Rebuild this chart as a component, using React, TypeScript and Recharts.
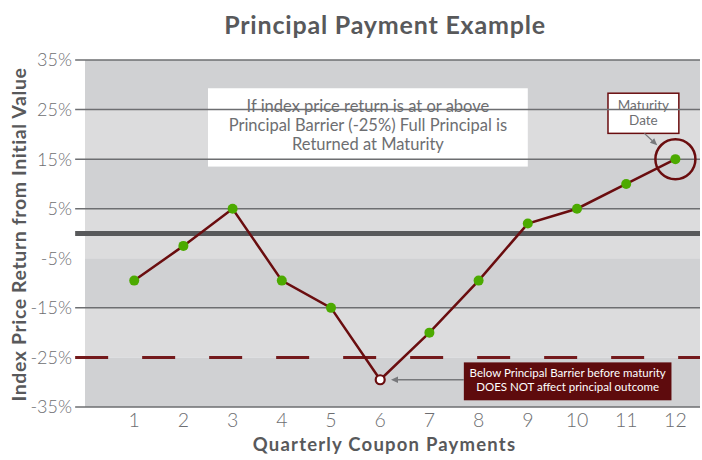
import React from 'react'
import {
  LineChart,
  Line,
  XAxis,
  YAxis,
  ReferenceArea,
  ReferenceLine,
  ReferenceDot,
  Label,
} from 'recharts'

const quarters = [1, 2, 3, 4, 5, 6, 7, 8, 9, 10, 11, 12]
const indexReturns = [-9.5, -2.5, 5, -9.5, -15, -29.5, -20, -9.5, 2, 5, 10, 15]
const yTicks = [35, 25, 15, 5, -5, -15, -25, -35]
const gridLevels = [35, 25, 15, 5, -15, -35]
const principalBarrier = -25
const noteText = [
  'If index price return is at or above',
  'Principal Barrier (-25%) Full Principal is',
  'Returned at Maturity',
]
const maturityText = ['Maturity', 'Date']
const breachText = ['Below Principal Barrier before maturity', 'DOES NOT affect principal outcome']

const data = quarters.map((q, i) => ({ quarter: q, value: indexReturns[i] }))

const RED = '#6a0d0f'
const GREEN = '#4caa00'
const TEXT = '#58595b'
const FONT = 'Lato, "Open Sans", sans-serif'

const renderDot = (props: any) => {
  const { cx, cy, payload, index } = props
  if (payload.value < principalBarrier) {
    return <circle key={index} cx={cx} cy={cy} r={4.5} fill="#fff" stroke={RED} strokeWidth={2.2} />
  }
  return <circle key={index} cx={cx} cy={cy} r={5} fill={GREEN} />
}

const NoteBox = (props: any) => {
  const { x, y, width, height } = props
  return (
    <g>
      <rect x={x} y={y} width={width} height={height} fill="#fff" />
      {noteText.map((t, i) => (
        <text key={i} x={x + width / 2} y={y + 23.5 + i * 19} textAnchor="middle" fontSize={16.5} fontFamily={FONT} fill="#6d6e71">
          {t}
        </text>
      ))}
    </g>
  )
}

const MaturityBox = (props: any) => {
  const { x, y, width, height } = props
  return (
    <g>
      <rect x={x} y={y} width={width} height={height} fill="#fff" stroke={RED} strokeWidth={1.5} />
      {maturityText.map((t, i) => (
        <text key={i} x={x + width / 2} y={y + 17 + i * 15} textAnchor="middle" fontSize={13.5} fontFamily={FONT} fill="#6d6e71">
          {t}
        </text>
      ))}
    </g>
  )
}

const BreachBox = (props: any) => {
  const { x, y, width, height } = props
  return (
    <g>
      <rect x={x} y={y} width={width} height={height} fill="#5e0b0d" />
      {breachText.map((t, i) => (
        <text key={i} x={x + width / 2} y={y + 15 + i * 13.5} textAnchor="middle" fontSize={11.5} fontFamily={FONT} fill="#fff">
          {t}
        </text>
      ))}
    </g>
  )
}

const Arrow = (props: any) => {
  const { x1, y1, x2, y2 } = props
  const a = Math.atan2(y2 - y1, x2 - x1)
  const len = 7
  const w = 3.2
  const bx = x2 - len * Math.cos(a)
  const by = y2 - len * Math.sin(a)
  const px = -Math.sin(a) * w
  const py = Math.cos(a) * w
  return (
    <g>
      <line x1={x1} y1={y1} x2={bx} y2={by} stroke="#77787b" strokeWidth={1.3} />
      <polygon points={`${x2},${y2} ${bx + px},${by + py} ${bx - px},${by - py}`} fill="#77787b" />
    </g>
  )
}

export default function App() {
  return (
    <div style={{ position: 'absolute', left: 0, top: 0, width: 702, height: 460, background: '#fff' }}>
      <div
        style={{
          position: 'absolute',
          left: 70,
          width: 630,
          top: 12,
          lineHeight: 1,
          textAlign: 'center',
          fontFamily: FONT,
          fontWeight: 700,
          fontSize: 25,
          letterSpacing: 0.8,
          color: TEXT,
        }}
      >
        Principal Payment Example
      </div>
      <LineChart width={702} height={460} data={data} margin={{ top: 60, right: 2, bottom: 0, left: 0 }}>
        {yTicks.slice(0, -1).map((top, i) => (
          <ReferenceArea
            key={top}
            y1={yTicks[i + 1]}
            y2={top}
            fill={i % 2 === 0 ? '#d0d1d3' : '#dcdcdd'}
            fillOpacity={1}
            stroke="none"
          />
        ))}
        {gridLevels.map((v) => (
          <ReferenceLine
            key={v}
            segment={[{ x: -0.2, y: v }, { x: 12.5, y: v }]}
            ifOverflow="visible"
            stroke="#6d6e71"
            strokeWidth={1.5}
          />
        ))}
        <ReferenceLine
          segment={[{ x: -0.2, y: 0 }, { x: 12.5, y: 0 }]}
          ifOverflow="visible"
          stroke="#58595b"
          strokeWidth={5}
        />
        <ReferenceLine
          segment={[{ x: -0.2, y: principalBarrier }, { x: 12.5, y: principalBarrier }]}
          ifOverflow="visible"
          stroke="#741a1c"
          strokeWidth={3}
          strokeDasharray="33 34"
        />
        <XAxis
          dataKey="quarter"
          type="number"
          domain={[0, 12.5]}
          ticks={quarters}
          axisLine={false}
          tickLine={false}
          tickSize={0}
          tickMargin={6}
          height={53}
          tick={{ fontSize: 19.5, fill: '#6d6e71', fontFamily: FONT, fontWeight: 300 }}
        >
          <Label
            content={(p: any) => (
              <text
                x={p.viewBox.x + p.viewBox.width / 2 - 8}
                y={p.viewBox.y + 44}
                textAnchor="middle"
                fontSize={18.5}
                fontWeight={700}
                letterSpacing={1.2}
                fontFamily={FONT}
                fill={TEXT}
              >
                Quarterly Coupon Payments
              </text>
            )}
          />
        </XAxis>
        <YAxis
          type="number"
          domain={[-35, 35]}
          ticks={yTicks}
          width={85}
          axisLine={false}
          tickLine={false}
          tickSize={0}
          tickMargin={13}
          tickFormatter={(v) => `${v}%`}
          tick={{ fontSize: 18, fill: '#6d6e71', fontFamily: FONT, fontWeight: 300 }}
        >
          <Label
            content={(p: any) => (
              <text
                transform={`translate(${p.viewBox.x + 26},${p.viewBox.y + p.viewBox.height / 2 + 1}) rotate(-90)`}
                textAnchor="middle"
                fontSize={19.5}
                fontWeight={700}
                letterSpacing={0.6}
                fontFamily={FONT}
                fill={TEXT}
              >
                Index Price Return from Initial Value
              </text>
            )}
          />
        </YAxis>
        <ReferenceArea x1={2.5} x2={9} y1={13.5} y2={29.3} shape={NoteBox} />
        <Line
          type="linear"
          dataKey="value"
          stroke={RED}
          strokeWidth={2.5}
          dot={renderDot}
          activeDot={false}
          isAnimationActive={false}
        />
        <ReferenceArea x1={10.63} x2={12.07} y1={20.2} y2={28.3} shape={MaturityBox} />
        <ReferenceLine segment={[{ x: 11.37, y: 20.2 }, { x: 11.63, y: 17.8 }]} shape={Arrow} />
        <ReferenceDot x={12} y={15} r={20} fill="none" stroke={RED} strokeWidth={2.5} />
        <ReferenceArea x1={7.7} x2={11.92} y1={-33.65} y2={-26} shape={BreachBox} />
        <ReferenceLine segment={[{ x: 7.7, y: -29.5 }, { x: 6.22, y: -29.5 }]} shape={Arrow} />
      </LineChart>
    </div>
  )
}
